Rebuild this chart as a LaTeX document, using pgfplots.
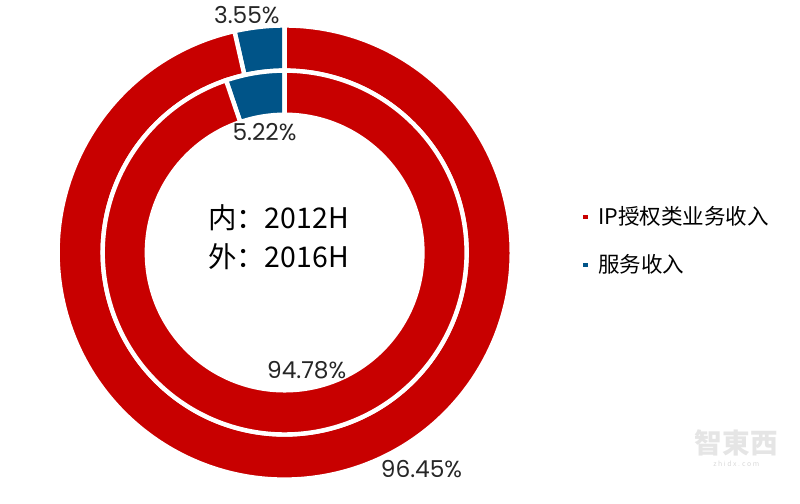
\documentclass[border=0pt]{standalone}
\usepackage{pgfplots}
\pgfplotsset{compat=1.18}
\usepackage{pgfplotstable}
\usepackage{fontspec}
\setmainfont{Noto Sans CJK SC}
\newfontfamily\pfont{Poppins}
\definecolor{ipred}{RGB}{200,0,0}
\definecolor{svblue}{RGB}{0,84,136}

% share of revenue (%): inner ring = 2012H, outer ring = 2016H
\pgfplotstableread{
ring ip sv
inner 94.78 5.22
outer 96.45 3.55
}\sharetable

\newcommand{\ringseg}[5]{% colour, start angle, end angle, inner r, outer r
  \fill[#1, draw=white, line width=0.09cm]
    ([shift={(#2:#5)}]axis cs:5.49,4.71) arc[start angle=#2, end angle=#3, radius=#5]
    -- ([shift={(#3:#4)}]axis cs:5.49,4.71) arc[start angle=#3, end angle=#2, radius=#4]
    -- cycle;}

\begin{document}
\pgfplotstablegetelem{0}{sv}\of\sharetable \let\innersv\pgfplotsretval
\pgfplotstablegetelem{1}{sv}\of\sharetable \let\outersv\pgfplotsretval
\pgfplotstablegetelem{0}{ip}\of\sharetable \let\innerip\pgfplotsretval
\pgfplotstablegetelem{1}{ip}\of\sharetable \let\outerip\pgfplotsretval
\pgfmathsetmacro{\innerA}{90+3.6*\innersv}
\pgfmathsetmacro{\outerA}{90+3.6*\outersv}
\pgfmathsetmacro{\innerB}{\innerA+3.6*\innerip}
\pgfmathsetmacro{\outerB}{\outerA+3.6*\outerip}
\begin{tikzpicture}
\begin{axis}[
  x=1cm, y=1cm,
  xmin=0, xmax=16, ymin=0, ymax=9.86,
  hide axis, clip=false,
  legend style={draw=none, fill=none, inner sep=0pt, outer sep=0pt,
    at={(axis cs:11.58,5.70)}, anchor=north west,
    font=\fontsize{12.5}{14}\selectfont, row sep=0.45cm, column sep=0.16cm,
    nodes={inner sep=1.5pt}},
  legend cell align=left,
  legend image code/.code={\fill (0cm,-0.045cm) rectangle (0.09cm,0.045cm);},
]
\path (axis cs:0,0) rectangle (axis cs:16,9.86);
% outer ring (2016H)
\ringseg{svblue}{90}{\outerA}{3.71cm}{4.63cm}
\ringseg{ipred}{\outerA}{\outerB}{3.71cm}{4.63cm}
% inner ring (2012H)
\ringseg{svblue}{90}{\innerA}{2.81cm}{3.71cm}
\ringseg{ipred}{\innerA}{\innerB}{2.81cm}{3.71cm}

\addlegendimage{fill=ipred, draw=none}
\addlegendentry{IP授权类业务收入}
\addlegendimage{fill=svblue, draw=none}
\addlegendentry{服务收入}

\node[font=\pfont\fontsize{13.5}{13.5}\selectfont, text=black!85] at (axis cs:4.72,9.56) {\outersv\%};
\node[font=\pfont\fontsize{13.5}{13.5}\selectfont, text=black!85] at (axis cs:5.08,7.16) {\innersv\%};
\node[font=\pfont\fontsize{13.5}{13.5}\selectfont, text=black!85] at (axis cs:5.94,2.32) {\innerip\%};
\node[font=\pfont\fontsize{13.5}{13.5}\selectfont, text=black!85] at (axis cs:8.28,0.30) {\outerip\%};

\node[anchor=west, inner sep=0pt, font=\fontsize{16.5}{16.5}\selectfont] at (axis cs:3.92,5.42) {内：2012H};
\node[anchor=west, inner sep=0pt, font=\fontsize{16.5}{16.5}\selectfont] at (axis cs:3.92,4.62) {外：2016H};

\node[text=black!10, font=\fontsize{16}{16}\selectfont\bfseries] at (axis cs:14.7,0.82) {智東西};
\node[text=black!15, font=\fontsize{4}{4}\selectfont] at (axis cs:14.7,0.40) {z h i d x . c o m};
\end{axis}
\end{tikzpicture}
\end{document}
